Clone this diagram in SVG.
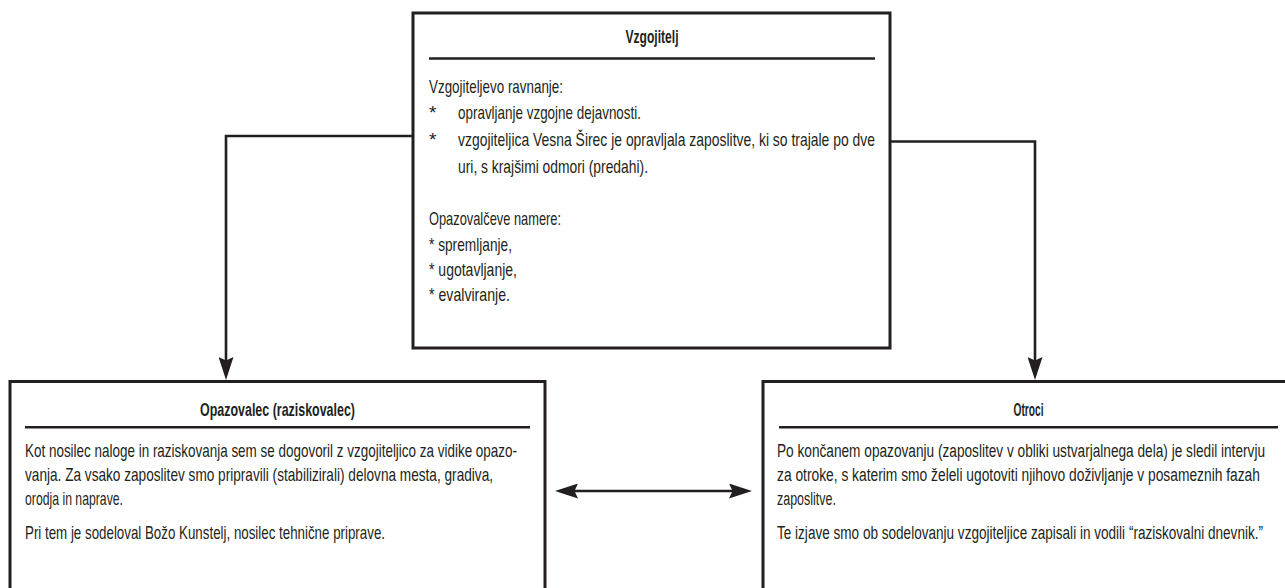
<svg xmlns="http://www.w3.org/2000/svg" width="1285" height="588" viewBox="0 0 1285 588">
<defs>
<style>
.box{fill:#fff;stroke:#231f20;stroke-width:3}
.rule{stroke:#231f20;stroke-width:2.6}
.t{font-family:"Liberation Sans",Arial,sans-serif;font-size:19px;fill:#231f20}
.h{font-weight:bold;text-anchor:middle}
.conn{fill:none;stroke:#231f20;stroke-width:2.6}
</style>
<marker id="ah" viewBox="0 0 23 15" refX="9" refY="7.5" markerWidth="23" markerHeight="15" markerUnits="userSpaceOnUse" orient="auto-start-reverse">
<path d="M0,0 L23,7.5 L0,15 L3.5,7.5 Z" fill="#231f20"/>
</marker>
</defs>
<rect width="1285" height="588" fill="#fff"/>

<g id="vzgojitelj">
<rect class="box" x="413" y="13" width="477" height="335"/>
<text class="t h" x="652" y="43" textLength="53" lengthAdjust="spacingAndGlyphs">Vzgojitelj</text>
<line class="rule" x1="429" y1="58.5" x2="875" y2="58.5"/>
<text class="t" x="429" y="93" textLength="134" lengthAdjust="spacingAndGlyphs">Vzgojiteljevo ravnanje:</text>
<text class="t" x="429" y="119">*</text>
<text class="t" x="458" y="119" textLength="183" lengthAdjust="spacingAndGlyphs">opravljanje vzgojne dejavnosti.</text>
<text class="t" x="429" y="146">*</text>
<text class="t" x="458" y="146" textLength="417" lengthAdjust="spacingAndGlyphs">vzgojiteljica Vesna Širec je opravljala zaposlitve, ki so trajale po dve</text>
<text class="t" x="458" y="173" textLength="190" lengthAdjust="spacingAndGlyphs">uri, s krajšimi odmori (predahi).</text>
<text class="t" x="429" y="225" textLength="132" lengthAdjust="spacingAndGlyphs">Opazovalčeve namere:</text>
<text class="t" x="429" y="251" textLength="83" lengthAdjust="spacingAndGlyphs">* spremljanje,</text>
<text class="t" x="429" y="276" textLength="88" lengthAdjust="spacingAndGlyphs">* ugotavljanje,</text>
<text class="t" x="429" y="301" textLength="81" lengthAdjust="spacingAndGlyphs">* evalviranje.</text>
</g>

<g id="opazovalec">
<path class="box" d="M10,588 V381.5 H545 V588"/>
<text class="t h" x="277.5" y="416" textLength="155" lengthAdjust="spacingAndGlyphs">Opazovalec (raziskovalec)</text>
<line class="rule" x1="25" y1="427.3" x2="530" y2="427.3"/>
<text class="t" x="25" y="457" textLength="492" lengthAdjust="spacingAndGlyphs">Kot nosilec naloge in raziskovanja sem se dogovoril z vzgojiteljico za vidike opazo-</text>
<text class="t" x="25" y="481" textLength="468" lengthAdjust="spacingAndGlyphs">vanja. Za vsako zaposlitev smo pripravili (stabilizirali) delovna mesta, gradiva,</text>
<text class="t" x="25" y="505" textLength="98" lengthAdjust="spacingAndGlyphs">orodja in naprave.</text>
<text class="t" x="25" y="539" textLength="360" lengthAdjust="spacingAndGlyphs">Pri tem je sodeloval Božo Kunstelj, nosilec tehnične priprave.</text>
</g>

<g id="otroci">
<path class="box" d="M763,588 V381.5 H1285"/>
<text class="t h" x="1028.5" y="416" textLength="30" lengthAdjust="spacingAndGlyphs">Otroci</text>
<line class="rule" x1="779" y1="427.3" x2="1278" y2="427.3"/>
<g transform="matrix(0.72,0,0,1,777,0)">
<text class="t" x="0" y="457" textLength="677.8" lengthAdjust="spacingAndGlyphs">Po končanem opazovanju (zaposlitev v obliki ustvarjalnega dela) je sledil intervju</text>
<text class="t" x="0" y="481" textLength="670.8" lengthAdjust="spacingAndGlyphs">za otroke, s katerim smo želeli ugotoviti njihovo doživljanje v posameznih fazah</text>
<text class="t" x="0" y="505" textLength="81.9" lengthAdjust="spacingAndGlyphs">zaposlitve.</text>
<text class="t" x="0" y="539" textLength="675" lengthAdjust="spacingAndGlyphs">Te izjave smo ob sodelovanju vzgojiteljice zapisali in vodili “raziskovalni dnevnik.”</text>
</g>
</g>

<g id="connectors">
<path class="conn" d="M413,136 H226 V366" marker-end="url(#ah)"/>
<path class="conn" d="M890,141.5 H1035 V366" marker-end="url(#ah)"/>
<path class="conn" d="M569,491 H738" marker-start="url(#ah)" marker-end="url(#ah)"/>
</g>
</svg>
